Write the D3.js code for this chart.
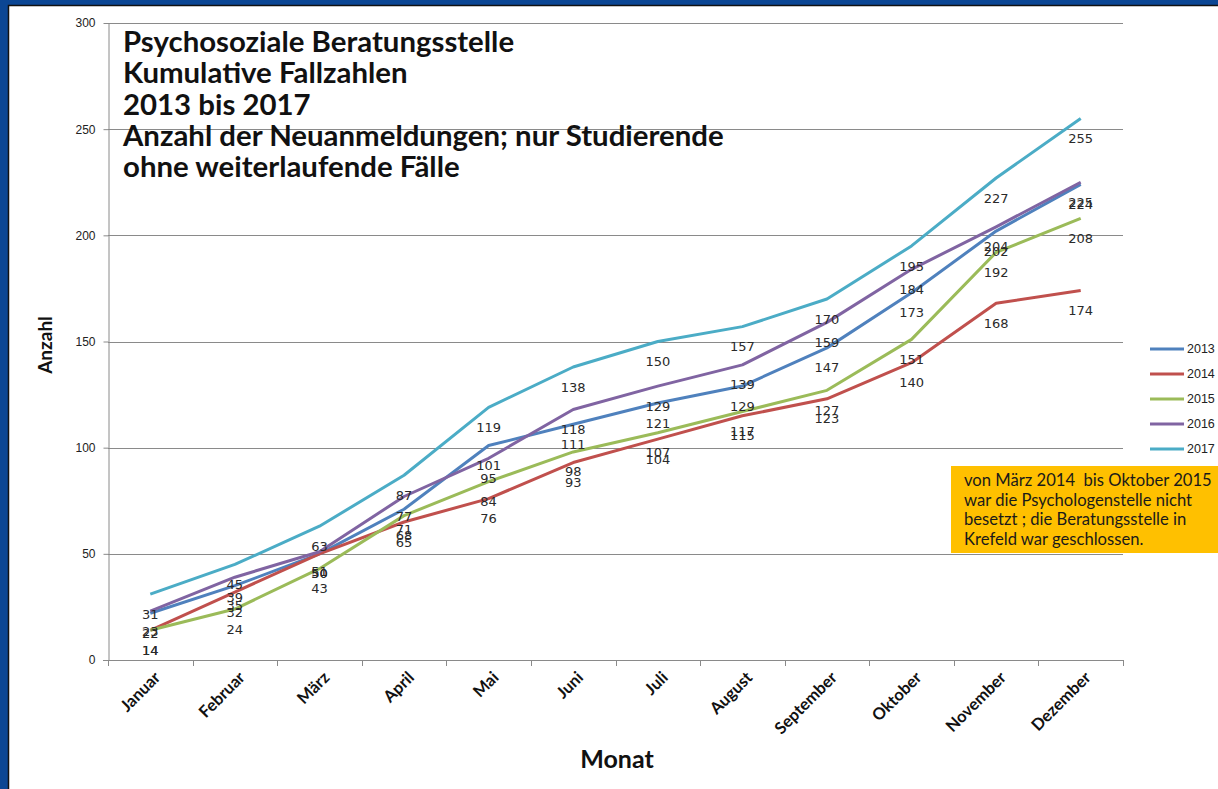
<!DOCTYPE html>
<html>
<head>
  <meta charset="utf-8">
  <script type="text/javascript" src="https://d3js.org/d3.v7.min.js"></script>
  <style>
    body { margin: 0; background: #ffffff; }
    #canvas { display: block; }
    .grid line { stroke: #8a8a8a; stroke-width: 1; }
    .axis path, .axis line { stroke: #8a8a8a; }
  </style>
</head>
<body>
  <svg id="canvas" width="1218" height="789"></svg>
</body>
<script>
  let svg = d3.select("svg");

  // kumulative Fallzahlen
  const months = ["Januar", "Februar", "März", "April", "Mai", "Juni", "Juli",
                  "August", "September", "Oktober", "November", "Dezember"];
  const years = ["2013", "2014", "2015", "2016", "2017"];
  const v2013 = [22, 35, 50, 71, 101, 111, 121, 129, 147, 173, 202, 224];
  const v2014 = [14, 32, 50, 65, 76, 93, 104, 115, 123, 140, 168, 174];
  const v2015 = [14, 24, 43, 68, 84, 98, 107, 117, 127, 151, 192, 208];
  const v2016 = [23, 39, 51, 77, 95, 118, 129, 139, 159, 184, 204, 225];
  const v2017 = [31, 45, 63, 87, 119, 138, 150, 157, 170, 195, 227, 255];
  const yTicks = [0, 50, 100, 150, 200, 250, 300];
  const colors = ["#4F81BD", "#C0504D", "#9BBB59", "#8064A2", "#4BACC6"];

  const titleLines = ["Psychosoziale Beratungsstelle", "Kumulative Fallzahlen", "2013 bis 2017",
                      "Anzahl der Neuanmeldungen; nur Studierende", "ohne weiterlaufende Fälle"];
  const noteLines = ["von März 2014  bis Oktober 2015", "war die Psychologenstelle nicht",
                     "besetzt ; die Beratungsstelle in", "Krefeld war geschlossen."];

  const series = years.map((yr, i) => ({ year: yr, values: [v2013, v2014, v2015, v2016, v2017][i] }));

  const x = d3.scaleBand().domain(months).range([108, 1123]);
  const y = d3.scaleLinear().domain([0, 300]).range([660, 23]);
  const cx = m => x(m) + x.bandwidth() / 2;

  // frame
  svg.append("rect").attr("x", 0).attr("y", 0).attr("width", 1218).attr("height", 789).attr("fill", "#ffffff");
  svg.append("rect").attr("x", 0).attr("y", 0).attr("width", 8).attr("height", 789).attr("fill", "#0b4694");
  svg.append("rect").attr("x", 0).attr("y", 0).attr("width", 1218).attr("height", 5).attr("fill", "#0b4694");
  svg.append("path").attr("d", "M 8.5,789 L 8.5,5.5 L 1218,5.5").attr("fill", "none").attr("stroke", "#111").attr("stroke-width", 1.5);

  // gridlines
  svg.append("g").attr("class", "grid")
    .selectAll("line").data(yTicks.filter(d => d > 0)).join("line")
      .attr("x1", 108).attr("x2", 1123)
      .attr("y1", d => Math.round(y(d)) + 0.5).attr("y2", d => Math.round(y(d)) + 0.5);

  // y axis
  const yAxis = svg.append("g").attr("class", "axis").attr("transform", "translate(108.5,0)")
    .call(d3.axisLeft(y).tickValues(yTicks).tickSize(5).tickPadding(8).tickSizeOuter(0));
  yAxis.selectAll("text").style("font-family", "Liberation Sans, Arial, sans-serif")
    .style("font-size", "12px").attr("fill", "#222");

  // x axis
  const xAxis = svg.append("g").attr("class", "axis").attr("transform", "translate(0,660.5)")
    .call(d3.axisBottom(x).tickSize(0).tickSizeOuter(0));
  xAxis.select(".domain").attr("d", "M103,0H1123");
  xAxis.selectAll("text")
    .style("font-family", "Lato, sans-serif").style("font-weight", "bold").style("font-size", "16.5px")
    .attr("fill", "#111")
    .attr("text-anchor", "end")
    .attr("transform", "translate(7,14) rotate(-45)")
    .attr("dy", "0.35em").attr("y", 0);
  svg.append("g").attr("class", "axis")
    .selectAll("line").data(months.map(m => x(m)).concat([x.range()[1]])).join("line")
      .attr("x1", d => Math.round(d) + 0.5).attr("x2", d => Math.round(d) + 0.5)
      .attr("y1", 660).attr("y2", 666);

  // lines
  const line = d3.line().x((d, i) => cx(months[i])).y(d => y(d));
  svg.append("g").selectAll("path").data(series).join("path")
    .attr("d", d => line(d.values))
    .attr("fill", "none")
    .attr("stroke", (d, i) => colors[i])
    .attr("stroke-width", 3)
    .attr("stroke-linejoin", "round");

  // data labels
  const labels = svg.append("g")
    .style("font-family", "DejaVu Sans, Verdana, sans-serif").style("font-size", "13px").attr("fill", "#2a2a2a");
  series.forEach(s => {
    labels.selectAll(null).data(s.values).join("text")
      .attr("x", (d, i) => cx(months[i]))
      .attr("y", d => y(d) + 20)
      .attr("dy", "0.35em")
      .attr("text-anchor", "middle")
      .text(d => d);
  });

  // axis titles
  svg.append("text").attr("transform", "translate(52,345) rotate(-90)")
    .attr("text-anchor", "middle")
    .style("font-family", "Lato, sans-serif").style("font-weight", "bold").style("font-size", "19px")
    .attr("fill", "#111").text("Anzahl");
  svg.append("text").attr("x", 617).attr("y", 768)
    .attr("text-anchor", "middle")
    .style("font-family", "Lato, sans-serif").style("font-weight", "bold").style("font-size", "25px")
    .attr("fill", "#111").text("Monat");

  // title block, sized so the long line matches the original width
  const title = svg.append("g")
    .style("font-family", "Lato, sans-serif").style("font-weight", "bold").style("font-size", "22px").attr("fill", "#111");
  title.selectAll("text").data(titleLines).join("text")
    .attr("x", 123).attr("y", (d, i) => 52 + i * 31.3)
    .text(d => d);
  const longLine = title.selectAll("text").filter((d, i) => i === 3).node().getComputedTextLength();
  title.style("font-size", (22 * 601 / longLine) + "px");

  // legend
  const legend = svg.append("g")
    .style("font-family", "Liberation Sans, Arial, sans-serif").style("font-size", "12.5px").attr("fill", "#222");
  years.forEach((yr, i) => {
    const ly = 349 + i * 25;
    legend.append("line").attr("x1", 1150).attr("x2", 1184).attr("y1", ly).attr("y2", ly)
      .attr("stroke", colors[i]).attr("stroke-width", 3);
    legend.append("text").attr("x", 1187).attr("y", ly).attr("dy", "0.35em").text(yr);
  });

  // note box
  svg.append("rect").attr("x", 951).attr("y", 466).attr("width", 267).attr("height", 87).attr("fill", "#FFC000");
  const note = svg.append("g")
    .style("font-family", "Lato, sans-serif").style("font-size", "15px").attr("fill", "#1a1a1a");
  note.selectAll("text").data(noteLines).join("text")
    .attr("x", 964).attr("y", (d, i) => 486 + i * 19.6)
    .style("white-space", "pre")
    .text(d => d);
  const noteW = note.selectAll("text").filter((d, i) => i === 0).node().getComputedTextLength();
  note.style("font-size", (15 * 248 / noteW) + "px");
</script>
</html>
